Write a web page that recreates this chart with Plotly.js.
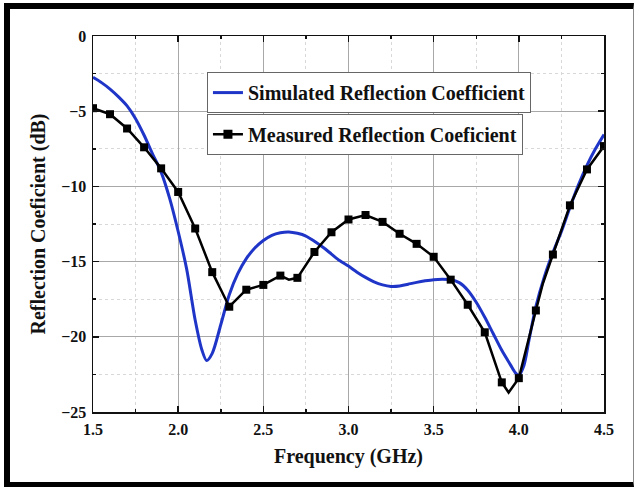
<!DOCTYPE html>
<html>
<head>
<meta charset="utf-8">
<script src="https://cdn.plot.ly/plotly-3.0.1.min.js"></script>
<style>
  html, body { margin:0; padding:0; background:#fff; }
  #wrap { position:relative; width:636px; height:490px; overflow:hidden; }
  #chart { position:absolute; left:0; top:0; width:636px; height:490px; }
  #frame { position:absolute; left:4px; top:3px; width:630px; height:484px;
           border-left:6px solid #000; border-top:6px solid #000; border-bottom:5px solid #000;
           border-right:1px solid #888; box-sizing:border-box; pointer-events:none; }
</style>
</head>
<body>
<div id="wrap"><div id="chart"></div><div id="frame"></div></div>
<script>
// Simulated reflection coefficient (dB)
const simFreq = [1.5, 1.55, 1.6, 1.65, 1.7, 1.75, 1.8, 1.85, 1.9, 1.95, 2.0, 2.05, 2.1, 2.14, 2.167, 2.2, 2.25, 2.3, 2.35, 2.4, 2.45, 2.5, 2.55, 2.6, 2.65, 2.7, 2.75, 2.8, 2.85, 2.9, 2.95, 3.0, 3.05, 3.1, 3.15, 3.2, 3.25, 3.3, 3.35, 3.4, 3.45, 3.5, 3.55, 3.6, 3.65, 3.7, 3.75, 3.8, 3.85, 3.9, 3.95, 3.98, 4.0, 4.03, 4.06, 4.1, 4.15, 4.2, 4.25, 4.3, 4.35, 4.4, 4.45, 4.5];
const simVal  = [-2.75, -3.1, -3.53, -4.05, -4.65, -5.5, -6.6, -7.85, -9.05, -10.8, -13.0, -15.5, -18.9, -20.9, -21.58, -21.1, -19.2, -17.2, -15.8, -14.8, -14.1, -13.6, -13.25, -13.08, -13.03, -13.12, -13.3, -13.65, -14.05, -14.5, -14.95, -15.3, -15.7, -16.05, -16.35, -16.55, -16.65, -16.62, -16.5, -16.38, -16.28, -16.2, -16.17, -16.2, -16.4, -16.9, -17.7, -18.7, -19.8, -20.9, -21.85, -22.4, -22.55, -21.9, -20.2, -18.0, -16.0, -14.4, -13.0, -11.4, -9.9, -8.6, -7.5, -6.55];

// Measured reflection coefficient (dB) – marked points
const measFreq = [1.5, 1.6, 1.7, 1.8, 1.9, 2.0, 2.1, 2.2, 2.3, 2.4, 2.5, 2.6, 2.7, 2.8, 2.9, 3.0, 3.1, 3.2, 3.3, 3.4, 3.5, 3.6, 3.7, 3.8, 3.9, 4.0, 4.1, 4.2, 4.3, 4.4, 4.5];
const measVal  = [-4.8, -5.2, -6.15, -7.4, -8.8, -10.37, -12.8, -15.7, -18.0, -16.87, -16.55, -15.93, -16.08, -14.36, -13.05, -12.2, -11.9, -12.36, -13.15, -13.82, -14.68, -16.2, -17.87, -19.7, -23.03, -22.75, -18.25, -14.53, -11.26, -8.87, -7.32];
// Measured curve points between markers (no marker drawn)
const measExtraFreq = [2.65, 3.94, 4.14];
const measExtraVal  = [-16.2, -23.7, -16.5];

const seriesNames = ['Simulated Reflection Coefficient', 'Measured Reflection Coeficient'];
const xTitle = 'Frequency (GHz)';
const yTitle = 'Reflection Coeficient (dB)';

// merge measured marker points and in-between points for the line
const measLine = measFreq.map((f, i) => [f, measVal[i]])
  .concat(measExtraFreq.map((f, i) => [f, measExtraVal[i]]))
  .sort((a, b) => a[0] - b[0]);

const BLUE = '#1f35c8';
const FONT = '"Liberation Serif", "Times New Roman", serif';

const traces = [
  { x: simFreq, y: simVal, mode: 'lines', name: seriesNames[0],
    line: { color: BLUE, width: 3, shape: 'spline', smoothing: 0.8 },
    legend: 'legend', showlegend: true },
  { x: measLine.map(p => p[0]), y: measLine.map(p => p[1]), mode: 'lines',
    line: { color: '#000', width: 2.5 }, showlegend: false, hoverinfo: 'skip' },
  { x: measFreq, y: measVal, mode: 'markers', name: seriesNames[1],
    marker: { symbol: 'square', size: 8, color: '#000' }, showlegend: false },
  { x: [null], y: [null], mode: 'lines+markers', name: seriesNames[1],
    line: { color: '#000', width: 2.5 }, marker: { symbol: 'square', size: 9, color: '#000' },
    legend: 'legend2', showlegend: true }
];

const axisCommon = {
  showline: true, linecolor: '#111', linewidth: 1.5, mirror: 'allticks',
  ticks: 'inside', ticklen: 6, tickwidth: 1.5, tickcolor: '#111',
  showgrid: true, gridcolor: '#a8a8a8', gridwidth: 1, zeroline: false,
  tickfont: { family: FONT, size: 16, color: '#111', weight: 'bold' }
};

const legendCommon = {
  xanchor: 'left', yanchor: 'top', bgcolor: '#fff', bordercolor: '#666', borderwidth: 1,
  font: { family: FONT, size: 20, color: '#111', weight: 'bold' }, itemwidth: 30
};

const layout = {
  width: 636, height: 490,
  margin: { l: 93, r: 32, t: 36, b: 78 },
  paper_bgcolor: '#fff', plot_bgcolor: '#fff',
  font: { family: FONT, color: '#111', weight: 'bold' },
  xaxis: Object.assign({}, axisCommon, {
    range: [1.5, 4.5], tick0: 1.5, dtick: 0.5, tickformat: '.1f',
    minor: { dtick: 0.25, ticks: 'inside', ticklen: 3, tickcolor: '#111', showgrid: true, gridcolor: '#d8d8d8', griddash: 'dot' },
    ticklabelstandoff: 2,
    title: { text: xTitle, font: { family: FONT, size: 20, color: '#111', weight: 'bold' }, standoff: 12 }
  }),
  yaxis: Object.assign({}, axisCommon, {
    range: [-25, 0], tick0: 0, dtick: 5,
    minor: { dtick: 2.5, ticks: 'inside', ticklen: 3, tickcolor: '#111', showgrid: true, gridcolor: '#d8d8d8', griddash: 'dot' },
    ticklabelstandoff: 2,
    title: { text: yTitle, font: { family: FONT, size: 20, color: '#111', weight: 'bold' }, standoff: 10 }
  }),
  legend: Object.assign({}, legendCommon, { x: 0.223, y: 0.904 }),
  legend2: Object.assign({}, legendCommon, { x: 0.223, y: 0.793 }),
  showlegend: true
};

Plotly.newPlot('chart', traces, layout, { displayModeBar: false, staticPlot: true });
</script>
</body>
</html>
